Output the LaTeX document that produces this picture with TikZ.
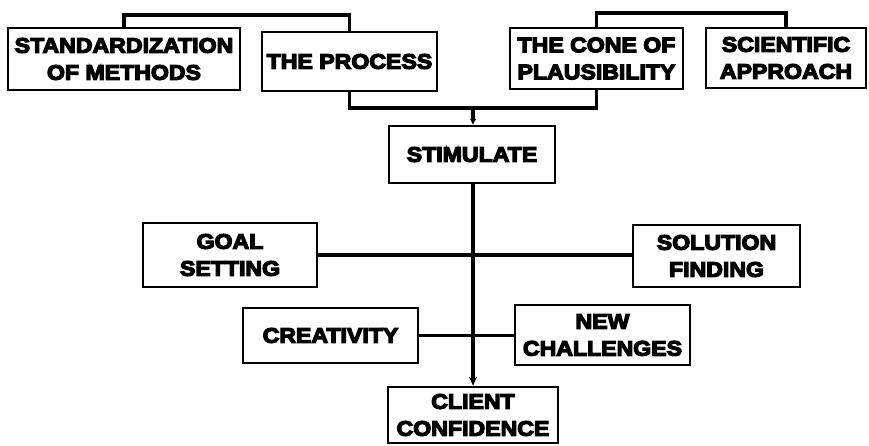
\documentclass[tikz,border=0pt]{standalone}
\usepackage{fontspec}
\newfontfamily\heavy[FakeBold=6,FakeStretch=1.1]{Liberation Sans Bold}
\usetikzlibrary{arrows.meta}
\tikzset{
  box/.style={draw, line width=2.6pt, rectangle, inner sep=0pt, align=center,
    font=\heavy\fontsize{21}{27}\selectfont},
  link/.style={line width=3.2pt},
  arr/.style={link, -{Stealth[length=9pt,width=8pt]}},
  smallarr/.style={link, -{Stealth[length=6pt,width=6pt]}},
}
\begin{document}
\begin{tikzpicture}[x=1pt,y=-1pt]
\useasboundingbox (0,0) rectangle (869,445);
\node[box, minimum width=232pt, minimum height=62pt] (std) at (124,59) {STANDARDIZATION\\OF METHODS};
\node[box, minimum width=175pt, minimum height=59pt] (proc) at (349.5,61.5) {THE PROCESS};
\node[box, minimum width=173pt, minimum height=61pt] (cone) at (596.5,58.5) {THE CONE OF\\PLAUSIBILITY};
\node[box, minimum width=160pt, minimum height=60pt] (sci) at (786,58) {SCIENTIFIC\\APPROACH};
\node[box, minimum width=166pt, minimum height=57pt] (stim) at (472,154.5) {STIMULATE};
\node[box, minimum width=174pt, minimum height=64pt] (goal) at (230,255) {GOAL\\SETTING};
\node[box, minimum width=167pt, minimum height=62pt] (sol) at (716.5,256) {SOLUTION\\FINDING};
\node[box, minimum width=175pt, minimum height=55pt] (crea) at (330.5,335.5) {CREATIVITY};
\node[box, minimum width=175pt, minimum height=60pt] (newc) at (602.5,335) {NEW\\CHALLENGES};
\node[box, minimum width=170pt, minimum height=56pt] (client) at (473,415) {CLIENT\\CONFIDENCE};
\coordinate (tl) at (236,15);
\coordinate (tr) at (690,13);
\coordinate (mid) at (473,108);
\draw[link] (std.north) |- (tl) -| (proc.north);
\draw[link] (cone.north) |- (tr) -| (sci.north);
\draw[link] (proc.south) |- (mid) -| (cone.south);
\draw[smallarr] (mid) -- (stim.north -| mid);
\draw[arr] (stim.south -| mid) -- (client.north -| mid);
\draw[link] (goal.east) -- (goal.east -| sol.west);
\draw[link] (crea.east) -- (crea.east -| newc.west);
\end{tikzpicture}
\end{document}
